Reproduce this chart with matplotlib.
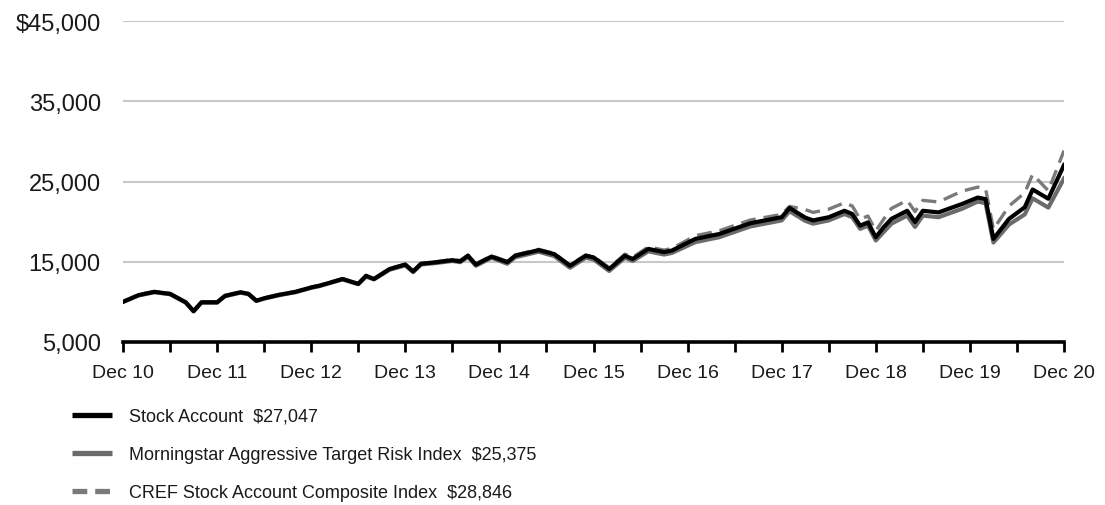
import matplotlib
matplotlib.use("Agg")
import matplotlib.pyplot as plt
from matplotlib.lines import Line2D
from matplotlib.ticker import FixedLocator, FuncFormatter

# -------------------------
# DATA (months since Dec 2010, value of $10,000 invested)
# -------------------------
months = [0, 2, 4, 6, 8, 9, 10, 12, 13, 15,
          16, 17, 18, 20, 22, 24, 25, 28, 30, 31,
          32, 34, 36, 37, 38, 40, 42, 43, 44, 45,
          47, 49, 50, 53, 55, 57, 59, 60, 62, 64,
          65, 67, 69, 70, 73, 76, 80, 84, 85, 87,
          88, 90, 92, 93, 94, 95, 96, 97, 98, 100,
          101, 102, 104, 107, 109, 110, 111, 113, 115, 116,
          118, 120]

stock_account = [10000, 10850, 11250, 11000, 9950, 8850, 9950, 9950, 10750, 11200,
                 11000, 10150, 10450, 10900, 11250, 11800, 12000, 12850, 12250, 13250,
                 12850, 14100, 14650, 13800, 14750, 14950, 15200, 15050, 15750, 14650,
                 15650, 14950, 15750, 16450, 15950, 14500, 15750, 15550, 14100, 15750,
                 15350, 16600, 16200, 16400, 17850, 18450, 19800, 20550, 21700, 20500,
                 20150, 20550, 21350, 20950, 19500, 19900, 18050, 19300, 20350, 21350,
                 19950, 21350, 21150, 22200, 23000, 22800, 17850, 20350, 21800, 24000,
                 22850, 27047]

morningstar = [10000, 10800, 11200, 10950, 9900, 8800, 9900, 9900, 10700, 11150,
               10950, 10100, 10400, 10850, 11200, 11750, 11950, 12800, 12200, 13150,
               12800, 14000, 14550, 13700, 14650, 14850, 15100, 14950, 15600, 14500,
               15500, 14750, 15550, 16250, 15700, 14250, 15500, 15300, 13850, 15500,
               15100, 16300, 15900, 16100, 17450, 18050, 19400, 20150, 21300, 20100,
               19750, 20150, 20950, 20550, 19100, 19500, 17650, 18700, 19750, 20750,
               19350, 20750, 20550, 21600, 22500, 22300, 17400, 19650, 20900, 22900,
               21750, 25375]

cref_composite = [10000, 10900, 11300, 11050, 10000, 8900, 10000, 10000, 10800, 11250,
                  11050, 10200, 10500, 10950, 11300, 11850, 12050, 12900, 12300, 13300,
                  12900, 14150, 14700, 13850, 14800, 15000, 15300, 15150, 15850, 14750,
                  15750, 15050, 15850, 16550, 16050, 14600, 15850, 15650, 14250, 15950,
                  15550, 16850, 16450, 16650, 18250, 18850, 20200, 20900, 21900, 21500,
                  21150, 21550, 22350, 21950, 20300, 20700, 18850, 20300, 21650, 22650,
                  21250, 22650, 22450, 23800, 24300, 24100, 19050, 21950, 23600, 25900,
                  23850, 28846]

tick_labels = ["Dec 10", "Dec 11", "Dec 12", "Dec 13", "Dec 14", "Dec 15",
               "Dec 16", "Dec 17", "Dec 18", "Dec 19", "Dec 20"]
y_ticks = [5000, 15000, 25000, 35000, 45000]

legend_labels = ["Stock Account  $27,047",
                 "Morningstar Aggressive Target Risk Index  $25,375",
                 "CREF Stock Account Composite Index  $28,846"]

# -------------------------
# PLOT
# -------------------------
plt.rcParams["font.family"] = ["Liberation Sans", "DejaVu Sans"]
TXT = "#1a1a1a"
BLACK = "#000000"
GRAY = "#6b6b6b"
DASH = "#7a7a7a"

fig = plt.figure(figsize=(11.05, 5.06), dpi=100)
ax = fig.add_axes([123 / 1105, 1 - 343 / 506, (1064 - 123) / 1105, (343 - 22) / 506])

ax.plot(months, morningstar, color=GRAY, lw=3.0, solid_joinstyle="round", zorder=3)
ax.plot(months, cref_composite, color=DASH, lw=2.4, dashes=(4.5, 2.4), zorder=2)
ax.plot(months, stock_account, color=BLACK, lw=3.0, solid_joinstyle="round", zorder=4)

ax.set_xlim(0, 120)
ax.set_ylim(5000, 45000)

# grid lines (no line at 5,000 - the axis is there)
for y in y_ticks[1:]:
    ax.axhline(y, color="#c8c8c8", lw=1.5, zorder=1)

ax.xaxis.set_major_locator(FixedLocator(list(range(0, 121, 12))))
ax.xaxis.set_minor_locator(FixedLocator(list(range(6, 120, 12))))
ax.set_xticklabels(tick_labels)
ax.tick_params(axis="x", which="both", direction="out", length=7, width=2,
               color=BLACK, labelsize=14, labelcolor=TXT, pad=9)

ax.set_yticks(y_ticks)
ax.yaxis.set_major_formatter(FuncFormatter(
    lambda v, p: f"${v:,.0f}" if v == 45000 else f"{v:,.0f}"))
ax.tick_params(axis="y", length=0, labelsize=17, labelcolor=TXT, pad=16)

for side in ["top", "right", "left"]:
    ax.spines[side].set_visible(False)
ax.spines["bottom"].set_linewidth(2.6)
ax.spines["bottom"].set_color(BLACK)
ax.spines["bottom"].set_zorder(5)

handles = [
    Line2D([], [], color=BLACK, lw=3.8, solid_capstyle="butt"),
    Line2D([], [], color=GRAY, lw=3.8, solid_capstyle="butt"),
    Line2D([], [], color=DASH, lw=3.8, dashes=(2.8, 1.5), dash_capstyle="butt"),
]
fig.legend(handles, legend_labels, loc="upper left",
           bbox_to_anchor=(72 / 1105, 1 - 409 / 506),
           frameon=False, borderpad=0, borderaxespad=0,
           handlelength=2.2, handletextpad=0.95, labelspacing=1.17,
           prop={"family": ["Liberation Sans"], "size": 13},
           labelcolor=TXT)

fig.savefig("out.png", dpi=100)
